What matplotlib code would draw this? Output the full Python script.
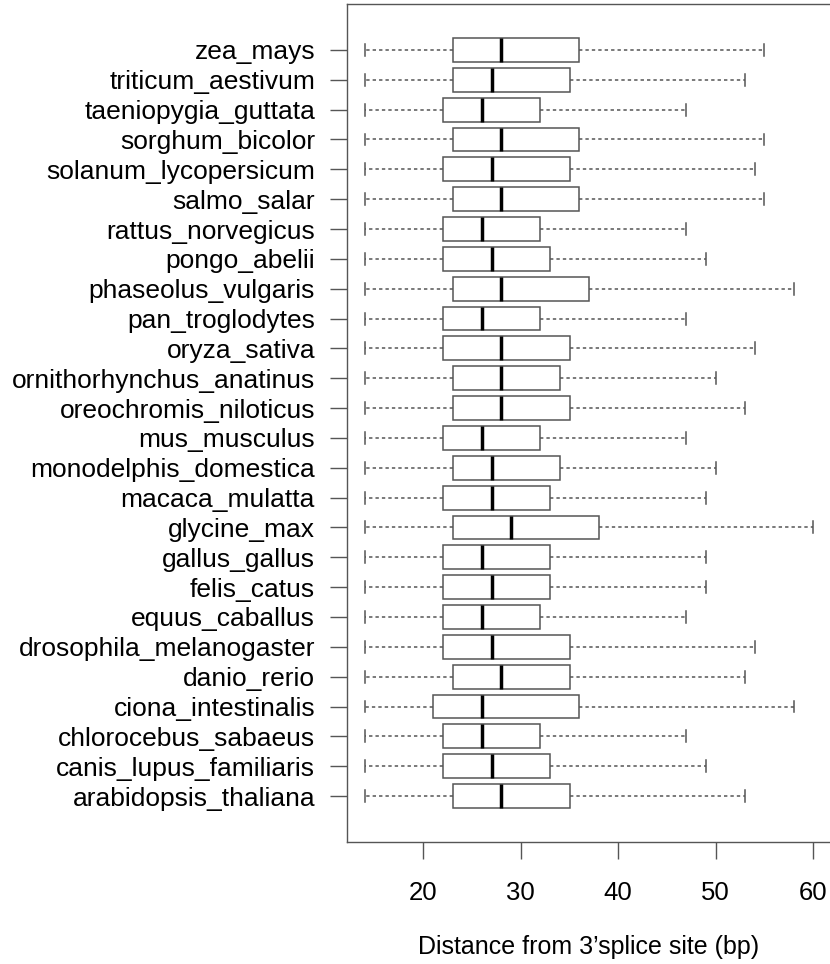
import matplotlib
matplotlib.use("Agg")
import matplotlib.pyplot as plt

plt.rcParams["font.family"] = ["Liberation Sans", "DejaVu Sans"]

# species listed top to bottom, as in the figure
species = [
    "zea_mays", "triticum_aestivum", "taeniopygia_guttata", "sorghum_bicolor",
    "solanum_lycopersicum", "salmo_salar", "rattus_norvegicus", "pongo_abelii",
    "phaseolus_vulgaris", "pan_troglodytes", "oryza_sativa",
    "ornithorhynchus_anatinus", "oreochromis_niloticus", "mus_musculus",
    "monodelphis_domestica", "macaca_mulatta", "glycine_max", "gallus_gallus",
    "felis_catus", "equus_caballus", "drosophila_melanogaster", "danio_rerio",
    "ciona_intestinalis", "chlorocebus_sabaeus", "canis_lupus_familiaris",
    "arabidopsis_thaliana",
]
whisker_lo = [14] * 26
q1 = [23, 23, 22, 23, 22, 23, 22, 22, 23, 22, 22, 23, 23, 22, 23, 22, 23, 22,
      22, 22, 22, 23, 21, 22, 22, 23]
median = [28, 27, 26, 28, 27, 28, 26, 27, 28, 26, 28, 28, 28, 26, 27, 27, 29, 26,
          27, 26, 27, 28, 26, 26, 27, 28]
q3 = [36, 35, 32, 36, 35, 36, 32, 33, 37, 32, 35, 34, 35, 32, 34, 33, 38, 33,
      33, 32, 35, 35, 36, 32, 33, 35]
whisker_hi = [55, 53, 47, 55, 54, 55, 47, 49, 58, 47, 54, 50, 53, 47, 50, 49, 60, 49,
              49, 47, 54, 53, 58, 47, 49, 53]
xticks = [20, 30, 40, 50, 60]

W, H = 830, 964
fig = plt.figure(figsize=(W / 100, H / 100), dpi=100)
ax = fig.add_axes([347 / W, 1 - 842 / H, 484 / W, 838 / H])

n = len(species)
positions = list(range(n, 0, -1))
stats = []
for i, name in enumerate(species):
    stats.append({
        "label": name, "med": median[i], "q1": q1[i], "q3": q3[i],
        "whislo": whisker_lo[i], "whishi": whisker_hi[i], "fliers": [],
    })

edge = "#555555"
ax.bxp(
    stats, positions=positions, widths=0.8, capwidths=0.4,
    orientation="horizontal", showfliers=False, patch_artist=True,
    boxprops=dict(facecolor="white", edgecolor=edge, linewidth=1.1),
    medianprops=dict(color="black", linewidth=2.5, solid_capstyle="butt"),
    whiskerprops=dict(color=edge, linewidth=1.1, linestyle=(0, (2.2, 2.0))),
    capprops=dict(color=edge, linewidth=1.1),
)

ax.set_ylim(-0.54, n + 1.54)
ax.set_xlim(12.16, 61.84)
ax.set_yticks(positions)
ax.set_yticklabels(species, fontsize=19)
ax.set_xticks(xticks)
ax.set_xticklabels([str(t) for t in xticks], fontsize=18.5)
ax.tick_params(axis="y", length=12, width=1.0, color=edge, pad=11)
ax.tick_params(axis="x", length=12, width=1.0, color=edge, pad=16)
for s in ax.spines.values():
    s.set_color(edge)
    s.set_linewidth(1.0)

ax.set_xlabel("Distance from 3\u2019splice site (bp)", fontsize=18, labelpad=22)

fig.savefig("out.png", dpi=100)
